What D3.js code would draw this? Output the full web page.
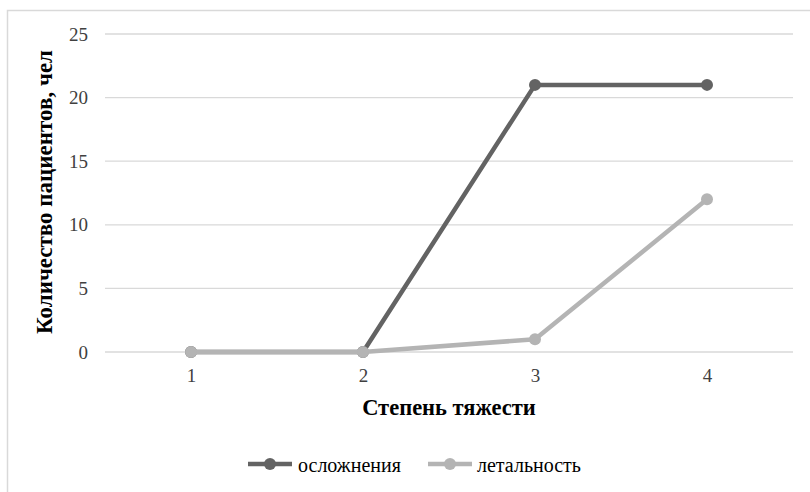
<!DOCTYPE html>
<html><head><meta charset="utf-8">
<script src="https://cdn.jsdelivr.net/npm/d3@7/dist/d3.min.js"></script>
<style>body{margin:0;background:#fff}svg{display:block}svg text{font-family:"Liberation Serif","Times New Roman",serif}</style>
</head><body>
<script>
const categories = ["1","2","3","4"];
const complications = [0,0,21,21];
const mortality = [0,0,1,12];
const yTicks = [0,5,10,15,20,25];
const seriesNames = ["осложнения","летальность"];

(function(){
const W=810,H=492;
const svg=d3.select("body").append("svg").attr("width",W).attr("height",H);
svg.append("rect").attr("x",7.5).attr("y",10.5).attr("width",W+20).attr("height",H+20)
  .attr("fill","none").attr("stroke","#d9d9d9").attr("stroke-width",1.5);

const pL=105,pR=793,pT=34,pB=352;
const x=d3.scalePoint().domain(categories).range([pL,pR]).padding(0.5);
const y=d3.scaleLinear().domain([0,25]).range([pB,pT]);

svg.append("g").selectAll("line").data(yTicks).join("line")
  .attr("x1",pL).attr("x2",pR).attr("y1",d=>y(d)).attr("y2",d=>y(d))
  .attr("stroke","#d9d9d9").attr("stroke-width",1.3);

const yAxis=svg.append("g").attr("transform",`translate(${pL},0)`)
  .call(d3.axisLeft(y).tickValues(yTicks).tickSize(0).tickPadding(17));
yAxis.select(".domain").remove();
yAxis.attr("font-family",null);
yAxis.selectAll("text").attr("font-size",19).attr("fill","#404040");

const xAxis=svg.append("g").attr("transform",`translate(0,${pB})`)
  .call(d3.axisBottom(x).tickSize(0).tickPadding(17));
xAxis.select(".domain").remove();
xAxis.attr("font-family",null);
xAxis.selectAll("text").attr("font-size",19).attr("fill","#404040");

svg.append("text").attr("x",449).attr("y",415).attr("text-anchor","middle")
  .attr("font-size",22.5).attr("font-weight","bold").attr("fill","#000")
  .text("Степень тяжести");
svg.append("text").attr("transform",`translate(52,192) rotate(-90)`).attr("text-anchor","middle")
  .attr("font-size",23).attr("font-weight","bold").attr("fill","#000")
  .text("Количество пациентов, чел");

const series=[{name:seriesNames[0],values:complications,color:"#636363"},
              {name:seriesNames[1],values:mortality,color:"#b4b4b4"}];
const line=d3.line().x((d,i)=>x(categories[i])).y(d=>y(d));
series.forEach(s=>{
  const g=svg.append("g");
  g.append("path").datum(s.values).attr("d",line).attr("fill","none")
    .attr("stroke",s.color).attr("stroke-width",4.5).attr("stroke-linejoin","round");
  g.selectAll("circle").data(s.values).join("circle")
    .attr("cx",(d,i)=>x(categories[i])).attr("cy",d=>y(d)).attr("r",6).attr("fill",s.color);
});

const leg=[{x:248,tx:298,s:series[0]},{x:428,tx:477,s:series[1]}];
leg.forEach(l=>{
  const g=svg.append("g");
  g.append("line").attr("x1",l.x).attr("x2",l.x+44).attr("y1",464).attr("y2",464)
    .attr("stroke",l.s.color).attr("stroke-width",4.5);
  g.append("circle").attr("cx",l.x+22).attr("cy",464).attr("r",6).attr("fill",l.s.color);
  g.append("text").attr("x",l.tx).attr("y",472).attr("font-size",20)
    .attr("fill","#000").text(l.s.name);
});
})();
</script>
</body></html>
